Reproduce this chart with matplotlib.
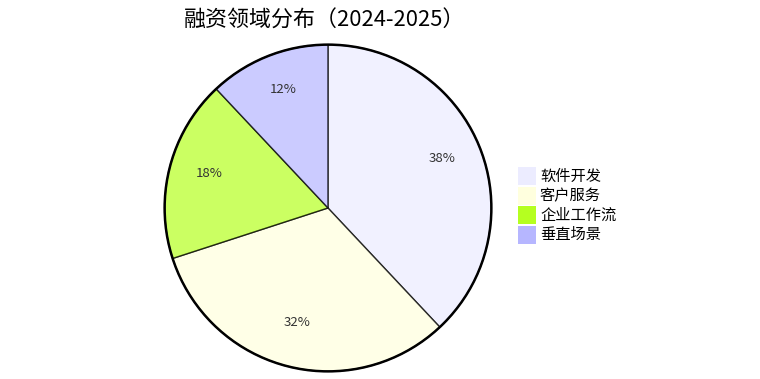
import matplotlib
matplotlib.use("Agg")
import matplotlib.pyplot as plt
from matplotlib.patches import Circle, Rectangle

plt.rcParams['font.family'] = ['Noto Sans CJK SC', 'DejaVu Sans']

# ============ 数据 ============
title = '融资领域分布（2024-2025）'
labels = ['软件开发', '客户服务', '企业工作流', '垂直场景']
shares = [38, 32, 18, 12]
colors = ['#ECECFF', '#FFFFDE', '#B5FF20', '#B6B6FF']

fig = plt.figure(figsize=(7.6, 3.79), dpi=100)

# 饼图区域: 圆心约 (328, 208) px, 半径约 165 px
W, H = 760, 379
cx, cy, r = 328, 208, 165
ax = fig.add_axes([(cx - r) / W, (H - cy - r) / H, 2 * r / W, 2 * r / H])

wedges, _, autotexts = ax.pie(
    shares, colors=colors, startangle=90, counterclock=False,
    autopct='%1.0f%%', pctdistance=0.75,
    wedgeprops=dict(edgecolor='black', linewidth=1, alpha=0.7),
    textprops=dict(fontsize=9.5, color='#333333'),
)
for t in autotexts:
    t.set_alpha(1)
    x, y = t.get_position()
    t.set_position((x, y + 0.025))
ax.add_patch(Circle((0, 0), 1, fill=False, edgecolor='black', linewidth=1.8))
ax.set_xlim(-1.01, 1.01)
ax.set_ylim(-1.01, 1.01)
ax.set_aspect('equal')
ax.axis('off')

fig.text(cx / W - 0.005, 1 - 21 / H, title, ha='center', va='center', fontsize=15.8, color='black')

# ============ 图例 ============
box = 18
x0, y0, step = 518, 167, 19.5
for i, (lab, col) in enumerate(zip(labels, colors)):
    top = y0 + i * step
    fig.patches.append(Rectangle((x0 / W, 1 - (top + box) / H), box / W, box / H,
                                 transform=fig.transFigure, facecolor=col,
                                 edgecolor='none'))
    fig.text((x0 + box + 4) / W, 1 - (top + box / 2) / H, lab,
             ha='left', va='center', fontsize=11, color='black')

fig.savefig('out.png', dpi=100)
